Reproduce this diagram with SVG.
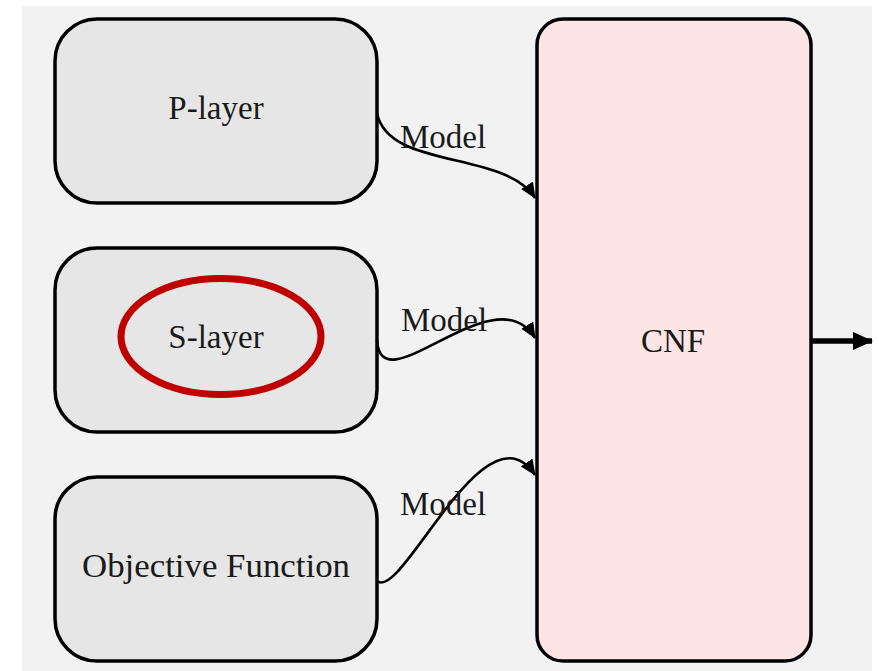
<svg xmlns="http://www.w3.org/2000/svg" width="879" height="671" viewBox="0 0 879 671">
<defs>
<style>
.node{fill:#e6e6e6;stroke:#000;stroke-width:3.5}
.cnf{fill:#fde5e5;stroke:#000;stroke-width:3.5}
.lbl{font-family:"Liberation Serif","DejaVu Serif",serif;font-size:33px;fill:#1a1a1a;text-anchor:middle}
.edge{fill:none;stroke:#000;stroke-width:2.6}
</style>
<marker id="ah" viewBox="0 0 16 14" refX="15" refY="7" markerWidth="16" markerHeight="14" markerUnits="userSpaceOnUse" orient="auto">
<path d="M0,0 L16,7 L0,14 Z" fill="#000"/>
</marker>
<marker id="ah2" viewBox="0 0 20 18" refX="19" refY="9" markerWidth="20" markerHeight="18" markerUnits="userSpaceOnUse" orient="auto">
<path d="M0,0 L20,9 L0,18 Z" fill="#000"/>
</marker>
</defs>
<rect x="22" y="6" width="850" height="665" fill="#f2f2f2"/>
<g id="p-layer">
<rect class="node" x="55" y="19" width="322" height="184" rx="42" ry="42"/>
<text class="lbl" x="216" y="119">P-layer</text>
</g>
<g id="s-layer">
<rect class="node" x="55" y="248" width="322" height="184" rx="42" ry="42"/>
<ellipse cx="221" cy="336.5" rx="100" ry="58" fill="none" stroke="#c00000" stroke-width="7"/>
<text class="lbl" x="216" y="348">S-layer</text>
</g>
<g id="objective">
<rect class="node" x="55" y="477" width="322" height="184" rx="42" ry="42"/>
<text class="lbl" x="216" y="577" textLength="268" lengthAdjust="spacingAndGlyphs">Objective Function</text>
</g>
<g id="cnf">
<rect class="cnf" x="537" y="19" width="274" height="642" rx="26" ry="26"/>
<text class="lbl" x="673" y="352">CNF</text>
</g>
<g id="connectors">
<path class="edge" d="M377,113 C388,170 505,150 535,198" marker-end="url(#ah)"/>
<path class="edge" d="M377,340 C381,408 495,272 535,338" marker-end="url(#ah)"/>
<path class="edge" d="M377,581 C402,602 485,400 535,475" marker-end="url(#ah)"/>
<path d="M811,341 L872,341" fill="none" stroke="#000" stroke-width="5.5" marker-end="url(#ah2)"/>
<text class="lbl" x="443" y="148">Model</text>
<text class="lbl" x="444" y="331">Model</text>
<text class="lbl" x="443" y="515">Model</text>
</g>
</svg>
